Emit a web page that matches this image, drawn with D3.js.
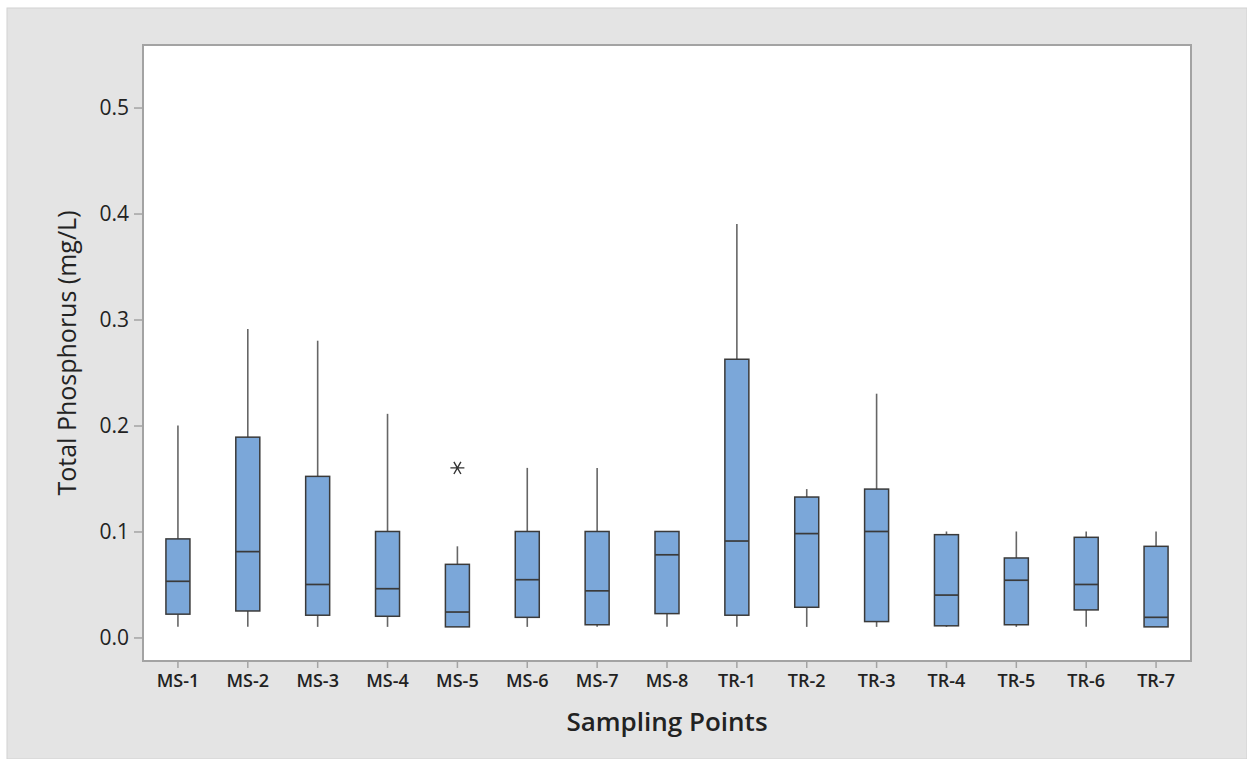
<!DOCTYPE html>
<html>
<head>
<meta charset="utf-8">
<script src="https://cdn.jsdelivr.net/npm/d3@7"></script>
<style>
  body { margin: 0; background: #fff; }
  text { font-family: "Open Sans", "Noto Sans", sans-serif; fill: #222; }
</style>
</head>
<body>
<svg width="1247" height="759"></svg>
<script>
// sampling points and box statistics (mg/L)
var sites   = ["MS-1","MS-2","MS-3","MS-4","MS-5","MS-6","MS-7","MS-8","TR-1","TR-2","TR-3","TR-4","TR-5","TR-6","TR-7"];
var lowWhisk = [0.010,0.010,0.010,0.010,0.010,0.010,0.010,0.010,0.010,0.010,0.010,0.010,0.010,0.010,0.010];
var q1       = [0.022,0.025,0.021,0.020,0.010,0.019,0.012,0.0225,0.021,0.0285,0.015,0.011,0.012,0.026,0.010];
var median   = [0.053,0.081,0.050,0.046,0.024,0.0545,0.044,0.078,0.091,0.098,0.100,0.040,0.054,0.050,0.019];
var q3       = [0.093,0.189,0.152,0.100,0.069,0.100,0.100,0.100,0.2625,0.1325,0.140,0.097,0.075,0.0945,0.086];
var highWhisk = [0.200,0.291,0.280,0.211,0.086,0.160,0.160,0.100,0.390,0.140,0.230,0.100,0.100,0.100,0.100];
var outliers = [{site: "MS-5", value: 0.160}];
var yTicks = [0.0, 0.1, 0.2, 0.3, 0.4, 0.5];

var svg = d3.select("svg"),
    margin = {top: 45, right: 56, bottom: 98, left: 143},
    width = +svg.attr("width") - margin.left - margin.right,
    height = +svg.attr("height") - margin.top - margin.bottom;

var boxFill = "#7ba7d9", boxLine = "#3a3a3a", whiskLine = "#666";

// background panel
svg.append("rect")
    .attr("x", 7).attr("y", 8)
    .attr("width", 1247 - 7).attr("height", 759 - 8)
    .attr("fill", "#e4e4e4")
    .attr("stroke", "#d2d2d2");

var x = d3.scaleBand().domain(sites).range([0, width]).padding(0);
var y = d3.scaleLinear().domain([-0.0222, 0.559]).range([height, 0]);

var g = svg.append("g")
    .attr("transform", "translate(" + margin.left + "," + margin.top + ")");

g.append("rect")
    .attr("width", width).attr("height", height)
    .attr("fill", "#fff")
    .attr("stroke", "#a3a3a3")
    .attr("stroke-width", 2);

// axes
var yAxis = d3.axisLeft(y).tickValues(yTicks).tickFormat(d3.format(".1f")).tickSize(9).tickPadding(5);
var xAxis = d3.axisBottom(x).tickSize(7).tickPadding(6);

g.append("g")
    .attr("class", "axis axis--y")
    .call(yAxis)
    .call(function(s) {
      s.select(".domain").remove();
      s.selectAll("line").attr("stroke", "#a3a3a3").attr("stroke-width", 1.5);
      s.selectAll("text").attr("font-size", 21).attr("fill", "#1e1e1e");
    });

g.append("g")
    .attr("class", "axis axis--x")
    .attr("transform", "translate(0," + height + ")")
    .call(xAxis)
    .call(function(s) {
      s.select(".domain").remove();
      s.selectAll("line").attr("stroke", "#a3a3a3").attr("stroke-width", 1.5);
      s.selectAll("text").attr("font-size", 18).attr("font-weight", 600).attr("fill", "#1e1e1e");
    });

// boxes
var data = sites.map(function(s, i) {
  return {site: s, lo: lowWhisk[i], q1: q1[i], med: median[i], q3: q3[i], hi: highWhisk[i]};
});
var bw = 24;

var box = g.selectAll(".box")
    .data(data)
  .enter().append("g")
    .attr("class", "box")
    .attr("transform", function(d) { return "translate(" + (x(d.site) + x.bandwidth() / 2) + ",0)"; });

box.append("line")
    .attr("x1", 0).attr("x2", 0)
    .attr("y1", function(d) { return y(d.q3); })
    .attr("y2", function(d) { return y(d.hi); })
    .attr("stroke", whiskLine).attr("stroke-width", 1.6);

box.append("line")
    .attr("x1", 0).attr("x2", 0)
    .attr("y1", function(d) { return y(d.q1); })
    .attr("y2", function(d) { return y(d.lo); })
    .attr("stroke", whiskLine).attr("stroke-width", 1.6);

box.append("rect")
    .attr("x", -bw / 2)
    .attr("width", bw)
    .attr("y", function(d) { return y(d.q3); })
    .attr("height", function(d) { return y(d.q1) - y(d.q3); })
    .attr("fill", boxFill)
    .attr("stroke", boxLine)
    .attr("stroke-width", 1.5);

box.append("line")
    .attr("x1", -bw / 2).attr("x2", bw / 2)
    .attr("y1", function(d) { return y(d.med); })
    .attr("y2", function(d) { return y(d.med); })
    .attr("stroke", boxLine).attr("stroke-width", 1.7);

// outliers (asterisk)
var star = "M-7,0L7,0M-3.5,-6.1L3.5,6.1M3.5,-6.1L-3.5,6.1";
g.selectAll(".outlier")
    .data(outliers)
  .enter().append("path")
    .attr("class", "outlier")
    .attr("transform", function(d) { return "translate(" + (x(d.site) + x.bandwidth() / 2) + "," + y(d.value) + ")"; })
    .attr("d", star)
    .attr("fill", "none")
    .attr("stroke", "#333")
    .attr("stroke-width", 1.4);

// axis titles
svg.append("text")
    .attr("x", margin.left + width / 2)
    .attr("y", 731)
    .attr("text-anchor", "middle")
    .attr("font-size", 26)
    .attr("font-weight", 600)
    .text("Sampling Points");

svg.append("text")
    .attr("transform", "translate(76," + (margin.top + height / 2) + ") rotate(-90)")
    .attr("text-anchor", "middle")
    .attr("font-size", 25)
    .attr("font-weight", 500)
    .text("Total Phosphorus (mg/L)");
</script>
</body>
</html>
